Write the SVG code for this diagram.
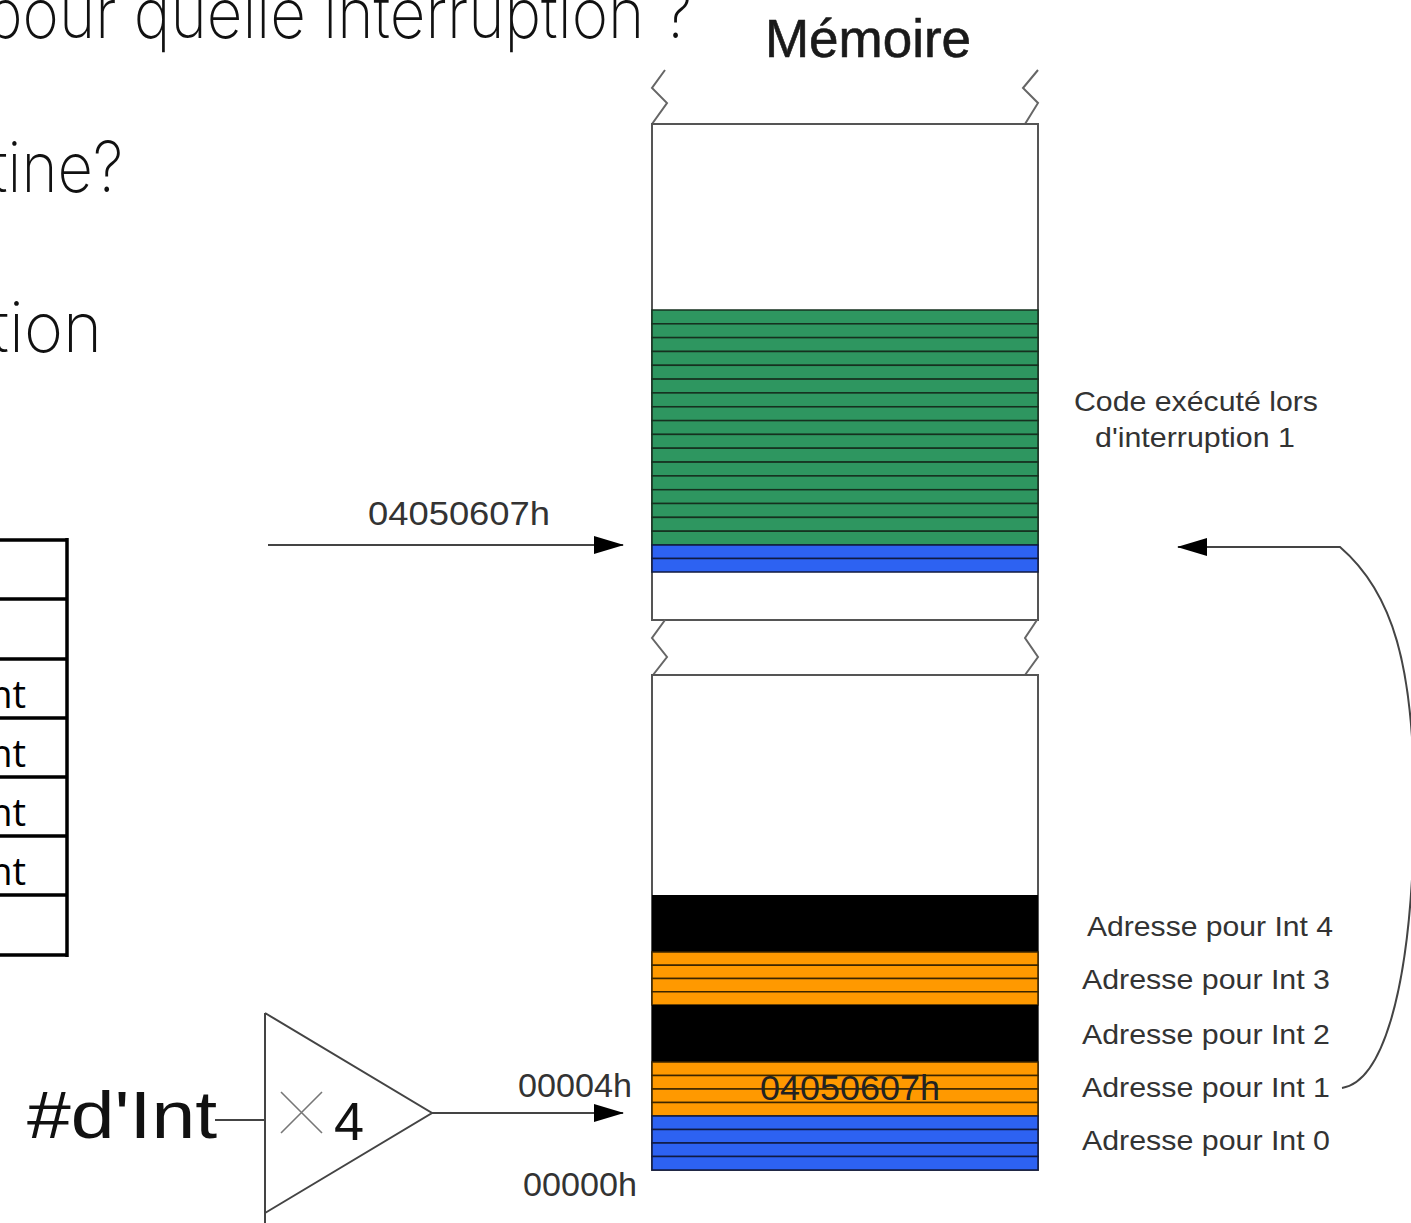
<svg xmlns="http://www.w3.org/2000/svg" width="1411" height="1223" viewBox="0 0 1411 1223">
  <defs>
    <style>
      .slide { font-family: Inter, Roboto, "Liberation Sans", sans-serif; font-weight: 200; fill: #111; }
      .lbl { font-family: "Liberation Sans", Arial, sans-serif; fill: #333; }
      .mem { fill: #fff; stroke: #555; stroke-width: 2; }
      .zig { fill: none; stroke: #666; stroke-width: 2; }
      .wire { fill: none; stroke: #444; stroke-width: 2; }
      .green { fill: #2e9660; stroke: #16301f; stroke-width: 1.5; }
      .blue { fill: #2d62f2; stroke: #101a40; stroke-width: 1.5; }
      .orange { fill: #ff9900; stroke: #3a2500; stroke-width: 1.5; }
      .black { fill: #000; }
      .tbl { stroke: #000; stroke-width: 3.5; fill: none; }
      .cell { font-family: "Open Sans", "Noto Sans", sans-serif; font-size: 38px; fill: #000; }
    </style>
    <marker id="arrow" viewBox="0 0 30 18" refX="29" refY="9" markerWidth="30" markerHeight="18" markerUnits="userSpaceOnUse" orient="auto">
      <path d="M0,0 L30,9 L0,18 Z" fill="#000"/>
    </marker>
  </defs>

  <!-- slide text, partly cut at the left edge -->
  <g id="slide-text">
    <text class="slide" x="-14" y="38" font-size="70" textLength="706" lengthAdjust="spacingAndGlyphs">pour quelle interruption ?</text>
    <text class="slide" x="-9" y="192" font-size="70" textLength="132" lengthAdjust="spacingAndGlyphs">tine?</text>
    <text class="slide" x="-9" y="352" font-size="70" textLength="111" lengthAdjust="spacingAndGlyphs">tion</text>
  </g>

  <!-- partial table at the left edge -->
  <g id="table">
    <path class="tbl" d="M-2,540 H67 M-2,599 H67 M-2,659 H67 M-2,718 H67 M-2,777 H67 M-2,836 H67 M-2,895 H67 M-2,955 H67 M67,538 V957"/>
    <text class="cell" x="26" y="708" text-anchor="end">nt</text>
    <text class="cell" x="26" y="767" text-anchor="end">nt</text>
    <text class="cell" x="26" y="826" text-anchor="end">nt</text>
    <text class="cell" x="26" y="885" text-anchor="end">nt</text>
  </g>

  <!-- memory title -->
  <g id="title">
    <text class="lbl" x="868" y="57" font-size="53" text-anchor="middle" style="fill:#1a1a1a; stroke:#1a1a1a; stroke-width:0.6">Mémoire</text>
  </g>

  <!-- upper memory block with code area -->
  <g id="memory-upper">
    <path class="zig" d="M665,70 L652,88 L667,103 L652,124"/>
    <path class="zig" d="M1038,70 L1023,88 L1038,103 L1025,124"/>
    <rect class="mem" x="652" y="124" width="386" height="496"/>
    <g id="code-int1">
      <rect class="green" x="652" y="310.0" width="386" height="13.82"/>
      <rect class="green" x="652" y="323.8" width="386" height="13.82"/>
      <rect class="green" x="652" y="337.6" width="386" height="13.82"/>
      <rect class="green" x="652" y="351.5" width="386" height="13.82"/>
      <rect class="green" x="652" y="365.3" width="386" height="13.82"/>
      <rect class="green" x="652" y="379.1" width="386" height="13.82"/>
      <rect class="green" x="652" y="392.9" width="386" height="13.82"/>
      <rect class="green" x="652" y="406.8" width="386" height="13.82"/>
      <rect class="green" x="652" y="420.6" width="386" height="13.82"/>
      <rect class="green" x="652" y="434.4" width="386" height="13.82"/>
      <rect class="green" x="652" y="448.2" width="386" height="13.82"/>
      <rect class="green" x="652" y="462.1" width="386" height="13.82"/>
      <rect class="green" x="652" y="475.9" width="386" height="13.82"/>
      <rect class="green" x="652" y="489.7" width="386" height="13.82"/>
      <rect class="green" x="652" y="503.5" width="386" height="13.82"/>
      <rect class="green" x="652" y="517.4" width="386" height="13.82"/>
      <rect class="green" x="652" y="531.2" width="386" height="13.82"/>
      <rect class="blue" x="652" y="545" width="386" height="13.5"/>
      <rect class="blue" x="652" y="558.5" width="386" height="13.5"/>
    </g>
  </g>

  <!-- break between the two blocks -->
  <g id="memory-break">
    <path class="zig" d="M665,620 L652,638 L667,657 L653,675"/>
    <path class="zig" d="M1037,620 L1025,638 L1038,657 L1025,675"/>
  </g>

  <!-- lower memory block with vector table -->
  <g id="memory-lower">
    <rect class="mem" x="652" y="675" width="386" height="495"/>
    <rect class="black" x="652" y="895" width="386" height="57"/>
    <rect class="orange" x="652" y="952" width="386" height="13.25"/>
    <rect class="orange" x="652" y="965.25" width="386" height="13.25"/>
    <rect class="orange" x="652" y="978.5" width="386" height="13.25"/>
    <rect class="orange" x="652" y="991.75" width="386" height="13.25"/>
    <rect class="black" x="652" y="1005" width="386" height="57"/>
    <rect class="orange" x="652" y="1062" width="386" height="13.5"/>
    <rect class="orange" x="652" y="1075.5" width="386" height="13.5"/>
    <rect class="orange" x="652" y="1089" width="386" height="13.5"/>
    <rect class="orange" x="652" y="1102.5" width="386" height="13.5"/>
    <rect class="blue" x="652" y="1116" width="386" height="13.5"/>
    <rect class="blue" x="652" y="1129.5" width="386" height="13.5"/>
    <rect class="blue" x="652" y="1143" width="386" height="13.5"/>
    <rect class="blue" x="652" y="1156.5" width="386" height="13.5"/>
    <text class="lbl" x="760" y="1100" font-size="35" textLength="180" lengthAdjust="spacingAndGlyphs" style="fill:#222">04050607h</text>
  </g>

  <!-- multiplier -->
  <g id="multiplier">
    <text class="lbl" x="27" y="1138" font-size="66" textLength="190" lengthAdjust="spacingAndGlyphs" style="fill:#111">#d'Int</text>
    <path class="wire" d="M265,1013 V1230 M265,1013 L432,1113 L265,1213"/>
    <path d="M281,1092 L322,1133 M281,1133 L322,1092" stroke="#777" stroke-width="1.6" fill="none"/>
    <text class="lbl" x="334" y="1140" font-size="54" style="fill:#111">4</text>
  </g>

  <!-- address labels -->
  <g id="labels">
    <text class="lbl" x="368" y="525" font-size="34" textLength="182" lengthAdjust="spacingAndGlyphs">04050607h</text>
    <text class="lbl" x="518" y="1097" font-size="33" textLength="114" lengthAdjust="spacingAndGlyphs">00004h</text>
    <text class="lbl" x="523" y="1196" font-size="33" textLength="114" lengthAdjust="spacingAndGlyphs">00000h</text>
    <text class="lbl" x="1074" y="411" font-size="28" textLength="244" lengthAdjust="spacingAndGlyphs">Code exécuté lors</text>
    <text class="lbl" x="1095" y="447" font-size="28" textLength="200" lengthAdjust="spacingAndGlyphs">d'interruption 1</text>
    <text class="lbl" x="1087" y="936" font-size="28" textLength="246" lengthAdjust="spacingAndGlyphs">Adresse pour Int 4</text>
    <text class="lbl" x="1082" y="989" font-size="28" textLength="248" lengthAdjust="spacingAndGlyphs">Adresse pour Int 3</text>
    <text class="lbl" x="1082" y="1044" font-size="28" textLength="248" lengthAdjust="spacingAndGlyphs">Adresse pour Int 2</text>
    <text class="lbl" x="1082" y="1097" font-size="28" textLength="248" lengthAdjust="spacingAndGlyphs">Adresse pour Int 1</text>
    <text class="lbl" x="1082" y="1150" font-size="28" textLength="248" lengthAdjust="spacingAndGlyphs">Adresse pour Int 0</text>
  </g>

  <!-- connectors -->
  <g id="connectors">
    <path class="wire" d="M268,545 H623" marker-end="url(#arrow)"/>
    <path class="wire" d="M215,1120 H265"/>
    <path class="wire" d="M432,1113 H623" marker-end="url(#arrow)"/>
    <path class="wire" d="M1342,1088 C1380,1082 1410,1000 1414,830 C1417,660 1390,590 1340,547 L1178,547" marker-end="url(#arrow)"/>
  </g>
</svg>
